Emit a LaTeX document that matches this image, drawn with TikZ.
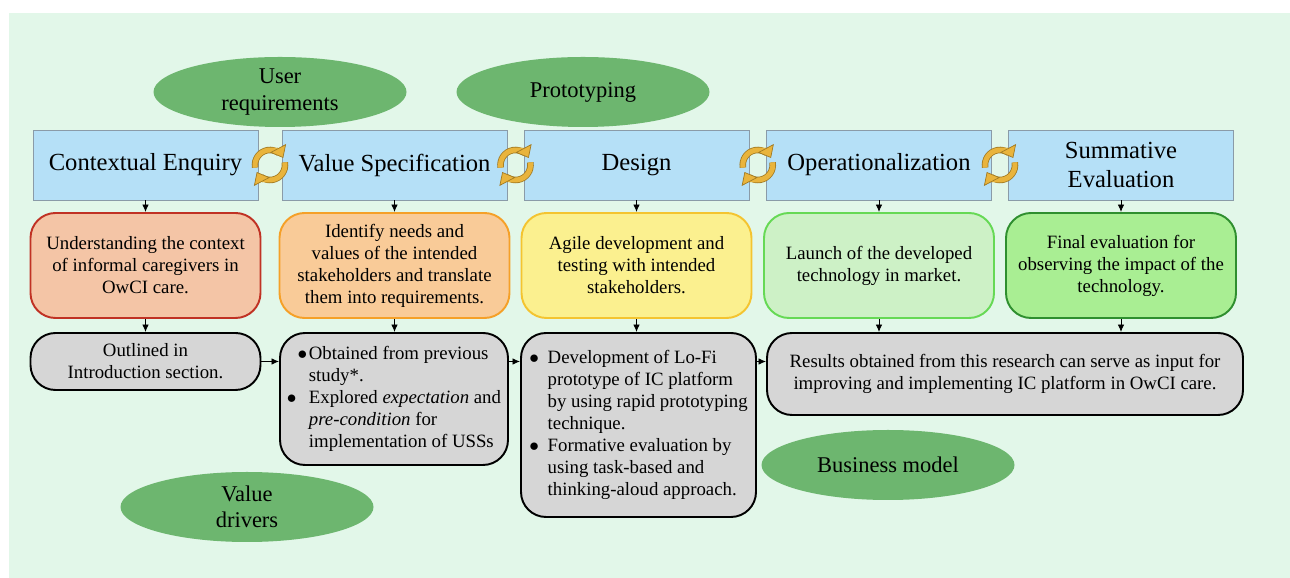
\documentclass[tikz,border=0pt]{standalone}
\usepackage{fontspec}
\setmainfont{Liberation Serif}
\usetikzlibrary{arrows.meta}
\usetikzlibrary{shapes.geometric}
\usetikzlibrary{calc}

\definecolor{backmint}{HTML}{E2F7E9}
\definecolor{phasefill}{HTML}{B5E0F7}
\definecolor{phaseline}{HTML}{8A9BA8}
\definecolor{topicgreen}{HTML}{6DB66F}
\definecolor{cycgold}{HTML}{E9B43C}
\definecolor{cycedge}{HTML}{A27A22}
\definecolor{resultgray}{HTML}{D6D6D6}

\begin{document}
\begin{tikzpicture}[
    phase/.style={draw=phaseline, fill=phasefill, minimum width=4.5cm, minimum height=1.4cm,
      align=center, font=\fontsize{14}{17}\selectfont},
    goal/.style={rounded corners=0.5cm, line width=1.1pt, minimum width=4.6cm, minimum height=2.1cm,
      align=center, font=\fontsize{10.7}{12.5}\selectfont},
    result/.style={draw=black, fill=resultgray, rounded corners=0.5cm, line width=1.1pt,
      minimum width=4.6cm, align=center, font=\fontsize{10.7}{12.5}\selectfont},
    topic/.style={ellipse, fill=topicgreen, inner sep=0pt, minimum width=5.06cm, minimum height=1.4cm,
      align=center, font=\fontsize{12.8}{15}\selectfont},
    link/.style={-{Latex[length=1.5mm,width=1.3mm]}, line width=0.5pt},
    cycarrow/.style={cycgold, line width=2.8pt,
      -{Triangle[length=2.2mm,width=3.6mm,fill=cycgold,color=cycedge,line width=0.4pt]}}
  ]
    % Hintergrund
    \useasboundingbox (0cm,0cm) rectangle (25.8cm,-11.56cm);
    \fill[white] (0cm,0cm) rectangle (25.8cm,-11.56cm);
    \fill[backmint] (0.18cm,-0.26cm) rectangle (25.8cm,-11.56cm);

    % Phasen
    \node[phase] (ce) at (2.91cm,-3.3cm) {Contextual Enquiry};
    \node[phase] (vs) at (7.89cm,-3.3cm) {Value Specification};
    \node[phase] (ds) at (12.73cm,-3.3cm) {Design};
    \node[phase] (op) at (17.58cm,-3.3cm) {Operationalization};
    \node[phase] (se) at (22.42cm,-3.3cm) {Summative\\Evaluation};

    % Ziele der Phasen
    \node[goal, draw={rgb,255:red,192;green,50;blue,36}, fill={rgb,255:red,244;green,197;blue,166}] (gce)
      at (2.91cm,-5.31cm) {Understanding the context\\of informal caregivers in\\OwCI care.};
    \node[goal, draw={rgb,255:red,245;green,160;blue,40}, fill={rgb,255:red,249;green,203;blue,152}] (gvs)
      at (7.89cm,-5.31cm) {Identify needs and\\values of the intended\\stakeholders and translate\\them into requirements.};
    \node[goal, draw={rgb,255:red,244;green,196;blue,48}, fill={rgb,255:red,251;green,240;blue,143}] (gds)
      at (12.73cm,-5.31cm) {Agile development and\\testing with intended\\stakeholders.};
    \node[goal, draw={rgb,255:red,102;green,217;blue,85}, fill={rgb,255:red,205;green,241;blue,198}] (gop)
      at (17.58cm,-5.31cm) {Launch of the developed\\technology in market.};
    \node[goal, draw={rgb,255:red,47;green,143;blue,47}, fill={rgb,255:red,169;green,238;blue,147}] (gse)
      at (22.42cm,-5.31cm) {Final evaluation for\\observing the impact of the\\technology.};

    % Ergebnisse
    \node[result, minimum height=1.14cm] (rce) at (2.91cm,-7.23cm) {Outlined in\\Introduction section.};
    \node[result, minimum height=2.64cm, minimum width=4.56cm] (rvs) at (7.88cm,-7.98cm)
      {\begin{tabular}{@{}r@{\hspace{3pt}}l@{}}
        $\bullet$\hspace{-2pt} & Obtained from previous\\
                    & study*.\\
        $\bullet$\hspace{4pt} & Explored \textit{expectation} and\\
                    & \textit{pre-condition} for\\
                    & implementation of USSs
      \end{tabular}};
    \node[result, minimum height=3.68cm, minimum width=4.7cm] (rds) at (12.77cm,-8.5cm)
      {\begin{tabular}{@{}l@{\hspace{5pt}}l@{}}
        $\bullet$ & Development of Lo-Fi\\
                  & prototype of IC platform\\
                  & by using rapid prototyping\\
                  & technique.\\
        $\bullet$ & Formative evaluation by\\
                  & using task-based and\\
                  & thinking-aloud approach.
      \end{tabular}};
    \node[result, minimum height=1.64cm, minimum width=9.52cm] (rop) at (20.1cm,-7.48cm)
      {Results obtained from this research can serve as input for\\improving and implementing IC platform in OwCI care.};

    % Themen
    \node[topic] (ur) at (5.6cm,-1.84cm) {User\\requirements};
    \node[topic] (pt) at (11.66cm,-1.84cm) {Prototyping};
    \node[topic] (vd) at (4.94cm,-10.14cm) {Value\\drivers};
    \node[topic] (bm) at (17.76cm,-9.3cm) {Business model};

    % Pfeile
    \foreach \p in {ce,vs,ds,op,se}
      \draw[link] (\p.south) -- (\p.south |- g\p.north);
    \foreach \p in {ce,vs,ds}
      \draw[link] (g\p.south) -- (g\p.south |- r\p.north);
    \draw[link] (gop.south) -- (gop.south |- rop.north);
    \draw[link] (gse.south) -- (gse.south |- rop.north);
    \draw[link] (rce.east) -- (rce.east -| rvs.west);
    \draw[link] (rvs.east |- rce.east) -- (rds.west |- rce.east);
    \draw[link] (rds.east |- rce.east) -- (rop.west |- rce.east);

    % Kreislauf-Symbole zwischen den Phasen
    \foreach \a/\b in {ce/vs,vs/ds,ds/op,op/se}
    {
      \coordinate (cyc) at ($(\a.east)!0.5!(\b.west)$);
      \draw[cycedge, line width=3.7pt] ([shift={(190:0.3cm)}]cyc) arc[start angle=190, end angle=55, radius=0.3cm];
      \draw[cycedge, line width=3.7pt] ([shift={(10:0.3cm)}]cyc) arc[start angle=10, end angle=-125, radius=0.3cm];
      \draw[cycarrow] ([shift={(190:0.3cm)}]cyc) arc[start angle=190, end angle=28, radius=0.3cm];
      \draw[cycarrow] ([shift={(10:0.3cm)}]cyc) arc[start angle=10, end angle=-152, radius=0.3cm];
    };
\end{tikzpicture}
\end{document}
